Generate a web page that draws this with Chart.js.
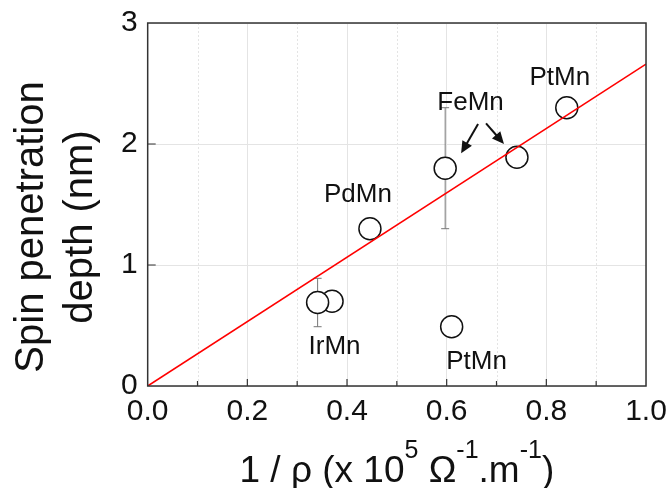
<!DOCTYPE html>
<html>
<head>
<meta charset="utf-8">
<script src="https://cdn.jsdelivr.net/npm/chart.js@4/dist/chart.umd.min.js"></script>
<style>
  html, body { margin: 0; padding: 0; background: #fff; }
  #wrap { width: 671px; height: 488px; }
</style>
</head>
<body>
<div id="wrap"><canvas id="spin-chart"></canvas></div>
<script>
// conductivity 1/rho (x 10^5 Ohm^-1.m^-1) and spin penetration depth (nm)
// IrMn is listed 0.37 first so the 0.34 circle sits on top of it
var conductance = [0.37, 0.341, 0.446, 0.597, 0.741, 0.841, 0.61];
var depth       = [0.70, 0.69, 1.30, 1.80, 1.89, 2.30, 0.49];
var depthErr    = [null, 0.20, null, 0.50, null, null, null];

// linear fit through the origin
var fitX = [0, 1.0];
var fitY = [0, 2.66];

var xTickLabels = ['0.0', '0.2', '0.4', '0.6', '0.8', '1.0'];
var yTickLabels = ['0', '1', '2', '3'];

// material labels, placed in data units
var noteText = ['PtMn', 'FeMn', 'PdMn', 'IrMn', 'PtMn'];
var noteX    = [0.827, 0.648, 0.422, 0.375, 0.66];
var noteY    = [2.55, 2.343, 1.583, 0.326, 0.20];

// arrows from the FeMn label to its two points
var arrowFrom = [[0.663, 2.165], [0.679, 2.171]];
var arrowTo   = [[0.629, 1.923], [0.715, 2.0]];

var FONT = '"Liberation Sans", Arial, sans-serif';

function pts(xs, ys) {
  return xs.map(function(x, i) { return { x: x, y: ys[i] }; });
}

function drawArrow(ctx, x0, y0, x1, y1) {
  var a = Math.atan2(y1 - y0, x1 - x0);
  var len = 12, half = 5.5;
  ctx.beginPath();
  ctx.moveTo(x0, y0);
  ctx.lineTo(x1 - Math.cos(a) * len * 0.8, y1 - Math.sin(a) * len * 0.8);
  ctx.stroke();
  ctx.beginPath();
  ctx.moveTo(x1, y1);
  ctx.lineTo(x1 - Math.cos(a) * len - Math.sin(a) * half, y1 - Math.sin(a) * len + Math.cos(a) * half);
  ctx.lineTo(x1 - Math.cos(a) * len + Math.sin(a) * half, y1 - Math.sin(a) * len - Math.cos(a) * half);
  ctx.closePath();
  ctx.fill();
}

// pieces of text with optional superscripts: [text, isSuper]
function richWidth(ctx, parts, big, small) {
  var w = 0;
  parts.forEach(function(p) {
    ctx.font = (p[1] ? small : big) + 'px ' + FONT;
    w += ctx.measureText(p[0]).width;
  });
  return w;
}

var decorations = {
  id: 'decorations',
  beforeDatasetsDraw: function(chart) {
    var ctx = chart.ctx, area = chart.chartArea;
    var xs = chart.scales.x, ys = chart.scales.y;
    ctx.save();
    // dotted minor grid
    ctx.strokeStyle = '#e4e4e4';
    ctx.lineWidth = 1;
    ctx.setLineDash([2, 2]);
    [0.1, 0.3, 0.5, 0.7, 0.9].forEach(function(v) {
      var px = Math.round(xs.getPixelForValue(v)) + 0.5;
      ctx.beginPath();
      ctx.moveTo(px, area.top);
      ctx.lineTo(px, area.bottom);
      ctx.stroke();
    });
    ctx.setLineDash([]);
    // error bars
    ctx.strokeStyle = '#777';
    ctx.lineWidth = 1;
    conductance.forEach(function(x, i) {
      if (depthErr[i] == null) return;
      var px = xs.getPixelForValue(x);
      var top = ys.getPixelForValue(depth[i] + depthErr[i]);
      var bot = ys.getPixelForValue(depth[i] - depthErr[i]);
      ctx.beginPath();
      ctx.moveTo(px, top); ctx.lineTo(px, bot);
      ctx.moveTo(px - 4, top); ctx.lineTo(px + 4, top);
      ctx.moveTo(px - 4, bot); ctx.lineTo(px + 4, bot);
      ctx.stroke();
    });
    ctx.restore();
  },
  afterDraw: function(chart) {
    var ctx = chart.ctx, area = chart.chartArea;
    var xs = chart.scales.x, ys = chart.scales.y;
    ctx.save();
    // frame
    ctx.strokeStyle = '#333';
    ctx.lineWidth = 1.5;
    ctx.strokeRect(area.left, area.top, area.right - area.left, area.bottom - area.top);
    // inward tick marks
    ctx.lineWidth = 1.2;
    ctx.beginPath();
    for (var k = 1; k < 10; k++) {
      var px = xs.getPixelForValue(k / 10);
      var len = (k % 2 === 0) ? 7 : 5;
      ctx.moveTo(px, area.bottom);
      ctx.lineTo(px, area.bottom - len);
    }
    [1, 2].forEach(function(v) {
      var py = ys.getPixelForValue(v);
      ctx.moveTo(area.left, py);
      ctx.lineTo(area.left + 8, py);
    });
    ctx.stroke();

    // material labels
    ctx.fillStyle = '#111';
    ctx.font = '26px ' + FONT;
    ctx.textAlign = 'center';
    ctx.textBaseline = 'middle';
    noteText.forEach(function(t, i) {
      ctx.fillText(t, xs.getPixelForValue(noteX[i]), ys.getPixelForValue(noteY[i]));
    });

    // arrows
    ctx.strokeStyle = '#111';
    ctx.lineWidth = 2;
    arrowFrom.forEach(function(f, i) {
      drawArrow(ctx,
        xs.getPixelForValue(f[0]), ys.getPixelForValue(f[1]),
        xs.getPixelForValue(arrowTo[i][0]), ys.getPixelForValue(arrowTo[i][1]));
    });

    // y axis title, two lines
    ctx.fillStyle = '#111';
    ctx.font = '40px ' + FONT;
    ctx.textBaseline = 'alphabetic';
    ctx.translate(43, 227);
    ctx.rotate(-Math.PI / 2);
    ctx.fillText('Spin penetration', 0, 0);
    ctx.fillText('depth (nm)', 0, 49);
    ctx.setTransform(1, 0, 0, 1, 0, 0);

    // x axis title with superscripts
    var parts = [['1 / \u03c1 (x 10', false], ['5', true], [' \u03a9', false], ['-1', true],
                 ['.m', false], ['-1', true], [')', false]];
    var big = 37, small = 25;
    var w = richWidth(ctx, parts, big, small);
    var cx = (area.left + area.right) / 2;
    var x = cx - w / 2, base = 482;
    ctx.textAlign = 'left';
    parts.forEach(function(p) {
      ctx.font = (p[1] ? small : big) + 'px ' + FONT;
      ctx.fillText(p[0], x, p[1] ? base - 24 : base);
      x += ctx.measureText(p[0]).width;
    });
    ctx.restore();
  }
};

new Chart(document.getElementById('spin-chart'), {
  type: 'scatter',
  data: {
    datasets: [{
      label: 'fit',
      data: pts(fitX, fitY),
      showLine: true,
      borderColor: '#ff0000',
      borderWidth: 1.6,
      pointRadius: 0,
      order: 0
    }, {
      label: 'depth',
      data: pts(conductance, depth),
      pointRadius: 11,
      pointBorderWidth: 1.5,
      borderColor: '#111',
      backgroundColor: '#fff',
      order: 1
    }]
  },
  options: {
    responsive: true,
    maintainAspectRatio: false,
    animation: false,
    events: [],
    layout: {
      padding: { left: 111, right: 25, top: 23, bottom: 50 }
    },
    plugins: {
      legend: { display: false },
      tooltip: { enabled: false }
    },
    scales: {
      x: {
        type: 'linear',
        min: 0,
        max: 1,
        border: { display: false },
        grid: { color: '#e4e4e4', drawTicks: false },
        ticks: {
          stepSize: 0.2,
          padding: 8,
          color: '#111',
          font: { family: FONT, size: 30 },
          callback: function(v, i) { return xTickLabels[i]; }
        },
        // end labels may hang into the layout padding
        afterFit: function(s) { s.paddingLeft = 0; s.paddingRight = 0; }
      },
      y: {
        min: 0,
        max: 3,
        border: { display: false },
        grid: { color: '#e4e4e4', drawTicks: false },
        ticks: {
          stepSize: 1,
          padding: 10,
          color: '#111',
          font: { family: FONT, size: 30 },
          callback: function(v, i) { return yTickLabels[i]; }
        },
        afterFit: function(s) { s.paddingTop = 0; s.paddingBottom = 0; }
      }
    }
  },
  plugins: [decorations]
});
</script>
</body>
</html>
